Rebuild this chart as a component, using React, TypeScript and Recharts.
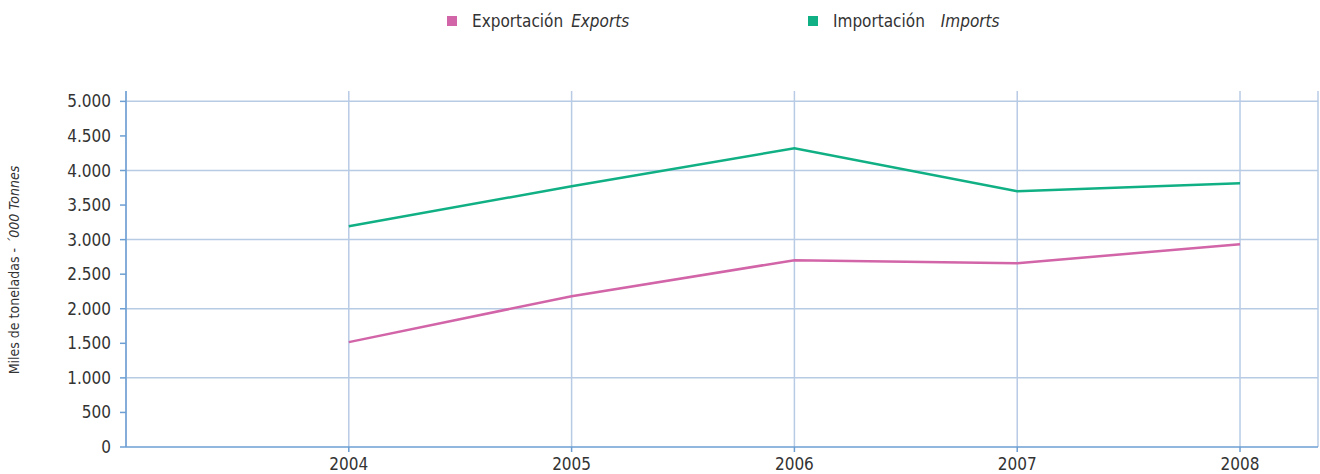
import React from 'react';
import { LineChart, Line, XAxis, YAxis, CartesianGrid, ReferenceLine, Label } from 'recharts';

const years = [2004, 2005, 2006, 2007, 2008];
const exportsValues = [1517, 2182, 2702, 2659, 2933];
const importsValues = [3194, 3772, 4321, 3699, 3815];
const yTicks = [0, 500, 1000, 1500, 2000, 2500, 3000, 3500, 4000, 4500, 5000];
const gridValues = [1000, 2000, 3000, 4000, 5000];

const data = years.map((year, i) => ({
  year,
  exports: exportsValues[i],
  imports: importsValues[i],
}));

const FONT = '"Liberation Sans Narrow", "DejaVu Sans Condensed", "Roboto", sans-serif';
const AXIS = '#6d9fd3';
const GRID = '#b8cbe5';
const PINK = '#d264a8';
const GREEN = '#10b084';

const fmt = (v: number) => v.toLocaleString('de-DE');

const YLabel = () => (
  <text
    x={14}
    y={270}
    transform="rotate(-90, 14, 270)"
    textAnchor="middle"
    dominantBaseline="central"
    fill="#333"
    fontSize={14}
    fontFamily={FONT}
  >
    Miles de toneladas - <tspan fontStyle="italic">´000 Tonnes</tspan>
  </text>
);

const LegendItem = ({ color, es, en, left, gap }: { color: string; es: string; en: string; left: number; gap: number }) => (
  <div style={{ position: 'absolute', left, top: 11, display: 'flex', alignItems: 'center', whiteSpace: 'nowrap' }}>
    <span style={{ width: 10, height: 10, background: color, display: 'inline-block', marginRight: 15 }} />
    <span>{es}</span>
    <span style={{ fontStyle: 'italic', marginLeft: gap }}>{en}</span>
  </div>
);

export default function App() {
  return (
    <div style={{ position: 'absolute', left: 0, top: 0, width: 1320, height: 474, background: '#fff', fontFamily: FONT, fontSize: 17, color: '#333' }}>
      <LegendItem color={PINK} es="Exportación" en="Exports" left={447} gap={8} />
      <LegendItem color={GREEN} es="Importación" en="Imports" left={808} gap={16} />
      <LineChart width={1320} height={474} data={data} margin={{ top: 91, right: 2, bottom: 0, left: 0 }}>
        <CartesianGrid horizontal={false} stroke={GRID} strokeWidth={1.5} />
        {gridValues.map((v) => (
          <ReferenceLine key={v} y={v} stroke={GRID} strokeWidth={1.5} />
        ))}
        <XAxis
          dataKey="year"
          type="number"
          domain={[2003, 2008.35]}
          ticks={years}
          allowDataOverflow
          height={27}
          stroke={AXIS}
          strokeWidth={1.5}
          tickSize={5}
          tickMargin={6}
          tick={{ fill: '#333', fontSize: 17, fontFamily: FONT }}
        />
        <YAxis
          type="number"
          domain={[0, 5150]}
          ticks={yTicks}
          allowDataOverflow
          width={126}
          stroke={AXIS}
          strokeWidth={1.5}
          tickSize={6}
          tickMargin={9}
          tickFormatter={fmt}
          tick={{ fill: '#333', fontSize: 17, fontFamily: FONT }}
        >
          <Label content={<YLabel />} />
        </YAxis>
        <Line type="linear" dataKey="imports" stroke={GREEN} strokeWidth={2.5} dot={false} isAnimationActive={false} />
        <Line type="linear" dataKey="exports" stroke={PINK} strokeWidth={2.5} dot={false} isAnimationActive={false} />
      </LineChart>
    </div>
  );
}
